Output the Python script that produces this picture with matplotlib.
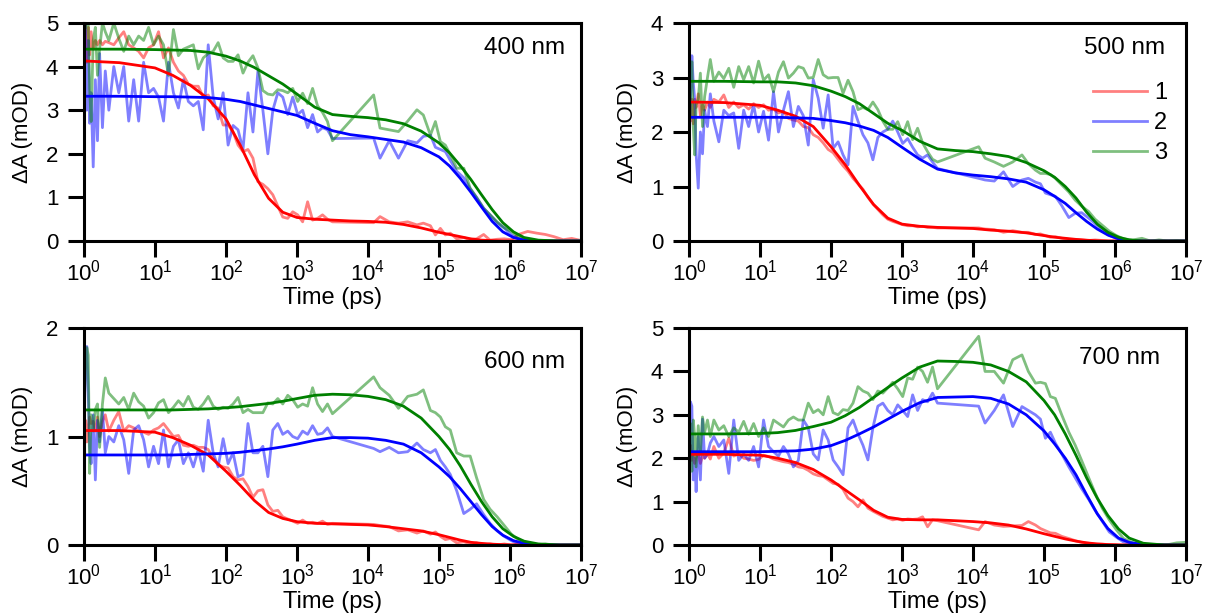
import numpy as np
import matplotlib
matplotlib.use("Agg")
import matplotlib.pyplot as plt
from matplotlib.ticker import NullLocator

plt.rcParams['font.family'] = ['Liberation Sans', 'DejaVu Sans']
plt.rcParams['mathtext.default'] = 'regular'

# time delays of the measured points, log10(t / ps)
# femtosecond set up to ~3 ns, then nanosecond set
t_fs_log = [0.00, 0.02, 0.04, 0.06, 0.08, 0.10, 0.13, 0.16, 0.19, 0.22, 0.26, 0.30,
            0.35, 0.42, 0.49, 0.56, 0.63, 0.70, 0.77, 0.84, 0.91, 0.98,
            1.05, 1.12, 1.19, 1.26, 1.33, 1.40, 1.47, 1.54, 1.61, 1.68, 1.75, 1.82, 1.89, 1.96,
            2.03, 2.10, 2.17, 2.24, 2.31, 2.38, 2.45, 2.52, 2.59, 2.66, 2.73, 2.80, 2.87, 2.94,
            3.01, 3.08, 3.15, 3.22, 3.29, 3.36, 3.43, 3.50]
t_ns_log = [4.08, 4.17, 4.30, 4.43, 4.56, 4.69, 4.78, 4.88, 4.95, 5.02,
            5.09, 5.16, 5.25, 5.35, 5.44, 5.53, 5.63, 5.72, 5.82, 5.92,
            6.02, 6.12, 6.25, 6.38, 6.50, 6.62, 6.75, 6.87, 6.98]

# time grid of the fitted curves, log10(t / ps)
t_fit_log = [0.00, 0.01, 0.5, 1.0, 1.25, 1.5, 1.75, 2.0, 2.2, 2.4, 2.6, 2.8, 3.0, 3.25, 3.5, 3.75,
             4.0, 4.25, 4.5, 4.75, 5.0, 5.15, 5.3, 5.45, 5.6, 5.75, 5.9, 6.05, 6.2, 6.4, 6.7, 7.0]

# ---- 400 nm ----
d400_1 = [4.27, 5.0, 4.1, 4.9, 4.27, 4.8, 4.4, 4.6, 4.5, 4.6, 4.5, 4.58,
          4.55, 4.5, 4.66, 4.8, 4.5, 4.43, 4.35, 4.2, 4.43, 4.5,
          4.8, 4.2, 4.43, 4.1, 3.9, 3.8, 3.6, 3.55, 3.55, 3.3, 3.35, 3.1, 3.05, 2.66,
          2.66, 2.5, 2.2, 2.05, 2.1, 1.9, 1.36, 1.3, 1.2, 1.06, 0.8, 0.55, 0.52, 0.67,
          0.6, 0.44, 0.9, 0.48, 0.52, 0.6, 0.5, 0.44,
          0.42, 0.56, 0.44, 0.41, 0.44, 0.37, 0.41, 0.35, 0.14, 0.29,
          0.14, 0.18, 0.05, 0.08, 0.03, 0.05, 0.15, 0.02, 0.04, 0.05,
          0.03, 0.15, 0.22, 0.18, 0.15, 0.1, 0.03, 0.06, 0.02]
d400_2 = [3.7, 5.0, 3.0, 4.6, 2.7, 3.4, 1.7, 3.7, 2.3, 4.3, 2.6, 3.9,
          3.0, 4.0, 3.4, 4.0, 2.75, 3.7, 2.75, 4.1, 3.4, 3.5,
          3.3, 2.75, 4.1, 3.4, 3.05, 3.7, 3.2, 3.1, 3.2, 2.55, 4.5, 3.3, 2.8, 3.4,
          2.2, 2.65, 2.55, 2.1, 3.4, 2.5, 3.9, 3.0, 2.0, 3.0, 3.4, 3.3, 2.9, 3.3,
          2.9, 3.0, 2.6, 2.9, 2.5, 2.6, 2.55, 2.35,
          2.36, 1.9, 2.3, 1.9, 2.3, 2.25, 2.4, 2.43, 2.15, 2.1,
          2.05, 1.85, 1.6, 1.45, 1.2, 1.0, 0.75, 0.6, 0.42, 0.3,
          0.14, 0.05, 0.02, 0.0, 0.0, 0.0, 0.0, 0.0, 0.0]
d400_3 = [4.4, 5.0, 4.9, 5.0, 3.5, 2.74, 4.6, 4.9, 3.8, 4.4, 5.0, 4.8,
          4.6, 5.0, 4.65, 4.35, 4.7, 4.5, 4.7, 4.6, 4.9, 4.5,
          4.7, 4.5, 3.8, 4.85, 4.25, 4.4, 4.45, 4.5, 3.95, 4.2, 4.3, 4.35, 4.55, 4.2,
          4.12, 4.12, 4.27, 3.85, 4.1, 4.25, 3.97, 3.45, 3.37, 3.35, 3.47, 3.45, 3.40, 3.5,
          3.2, 3.39, 3.15, 3.5, 3.1, 2.95, 2.74, 2.3,
          3.35, 2.59, 2.55, 2.51, 2.75, 3.01, 2.89, 2.43, 2.74, 2.28,
          2.2, 1.98, 1.67, 1.67, 1.21, 1.0, 0.75, 0.6, 0.44, 0.3,
          0.22, 0.1, 0.03, 0.0, 0.0, 0.0, 0.0, 0.0, 0.0]
f400_1 = [4.13, 4.13, 4.09, 3.97, 3.80, 3.57, 3.26, 2.80, 2.20, 1.52, 0.98, 0.66, 0.54, 0.50, 0.48, 0.46,
          0.45, 0.43, 0.38, 0.30, 0.20, 0.15, 0.10, 0.05, 0.02, 0.01, 0.0, 0.0, 0.0, 0.0, 0.0, 0.0]
f400_2 = [3.32, 3.32, 3.32, 3.31, 3.31, 3.30, 3.29, 3.25, 3.20, 3.12, 3.04, 2.96, 2.88, 2.70, 2.53, 2.44,
          2.39, 2.33, 2.27, 2.14, 1.93, 1.72, 1.44, 1.12, 0.78, 0.45, 0.21, 0.08, 0.02, 0.0, 0.0, 0.0]
f400_3 = [4.40, 4.40, 4.40, 4.39, 4.38, 4.37, 4.33, 4.24, 4.13, 3.98, 3.79, 3.60, 3.37, 3.07, 2.90, 2.86,
          2.83, 2.78, 2.69, 2.52, 2.25, 2.02, 1.73, 1.41, 1.06, 0.72, 0.42, 0.21, 0.08, 0.02, 0.0, 0.0]

# ---- 500 nm ----
d500_1 = [2.5, 2.2, 2.6, 2.15, 2.6, 2.45, 2.7, 2.3, 2.5, 2.4, 2.55, 2.45,
          2.6, 2.55, 2.68, 2.45, 2.55, 2.45, 2.5, 2.42, 2.52, 2.45,
          2.5, 2.4, 2.42, 2.35, 2.38, 2.25, 2.22, 2.2, 2.1, 2.08, 1.95, 1.9, 1.8, 1.68,
          1.62, 1.5, 1.38, 1.28, 1.15, 1.05, 0.95, 0.8, 0.68, 0.58, 0.48, 0.4, 0.36, 0.33,
          0.3, 0.28, 0.28, 0.26, 0.27, 0.25, 0.25, 0.24,
          0.24, 0.22, 0.21, 0.16, 0.19, 0.16, 0.16, 0.12, 0.13, 0.1,
          0.07, 0.08, 0.05, 0.03, 0.03, 0.02, 0.01, 0.02, 0.01, 0.0,
          0.0, 0.0, 0.0, 0.0, 0.0, 0.0, 0.0, 0.0, 0.0]
d500_2 = [1.7, 2.6, 3.4, 2.9, 2.6, 1.6, 0.97, 2.0, 1.6, 2.4, 2.1, 2.7,
          2.2, 1.82, 2.4, 2.3, 2.35, 1.7, 2.4, 2.1, 2.5, 2.0,
          2.38, 1.85, 2.74, 2.0, 2.4, 2.74, 2.1, 2.47, 2.3, 1.76, 2.96, 2.62, 2.07, 2.68,
          1.7, 1.82, 1.58, 1.4, 2.47, 2.2, 1.95, 1.8, 1.49, 1.9, 2.0, 2.05, 2.2, 2.0,
          1.79, 1.88, 1.72, 1.58, 1.52, 1.58, 1.45, 1.33,
          1.15, 1.12, 1.1, 1.27, 1.0, 1.12, 1.15, 1.08, 1.05, 0.88,
          0.85, 0.82, 0.65, 0.43, 0.51, 0.52, 0.42, 0.32, 0.2, 0.1,
          0.05, 0.02, 0.0, 0.0, 0.0, 0.0, 0.0, 0.0, 0.0]
d500_3 = [2.5, 2.3, 3.29, 2.1, 1.58, 2.5, 2.6, 3.08, 2.1, 2.65, 3.0, 3.33,
          2.93, 3.1, 2.98, 3.17, 2.82, 3.2, 2.96, 3.2, 2.9, 3.3,
          2.95, 3.05, 2.74, 3.1, 3.29, 2.99, 3.08, 3.2, 3.17, 2.99, 3.0, 3.33, 3.05, 2.99,
          3.0, 3.0, 2.71, 2.95, 2.74, 2.41, 2.45, 2.41, 2.55, 2.41, 2.2, 2.05, 2.05, 2.19,
          1.95, 2.19, 1.86, 2.07, 1.8, 1.64, 1.5, 1.45,
          1.73, 1.52, 1.45, 1.37, 1.45, 1.58, 1.42, 1.30, 1.24, 1.24,
          1.22, 1.15, 1.03, 0.9, 0.75, 0.64, 0.54, 0.4, 0.29, 0.18,
          0.1, 0.04, 0.02, 0.05, 0.0, 0.02, 0.0, 0.01, 0.0]
f500_1 = [2.55, 2.55, 2.54, 2.49, 2.40, 2.29, 2.10, 1.73, 1.40, 1.02, 0.67, 0.42, 0.31, 0.27, 0.25, 0.24,
          0.23, 0.20, 0.18, 0.15, 0.10, 0.07, 0.05, 0.03, 0.015, 0.005, 0.0, 0.0, 0.0, 0.0, 0.0, 0.0]
f500_2 = [2.27, 2.27, 2.27, 2.27, 2.27, 2.26, 2.25, 2.21, 2.17, 2.11, 2.03, 1.90, 1.72, 1.50, 1.32, 1.25,
          1.21, 1.18, 1.14, 1.08, 0.94, 0.82, 0.69, 0.52, 0.36, 0.22, 0.11, 0.04, 0.01, 0.0, 0.0, 0.0]
f500_3 = [2.93, 2.93, 2.93, 2.92, 2.92, 2.90, 2.85, 2.75, 2.65, 2.52, 2.34, 2.16, 2.03, 1.83, 1.69, 1.66,
          1.64, 1.60, 1.55, 1.44, 1.29, 1.17, 1.0, 0.79, 0.53, 0.31, 0.16, 0.07, 0.02, 0.0, 0.0, 0.0]

# ---- 600 nm ----
d600_1 = [0.78, 1.15, 0.95, 1.1, 1.18, 1.12, 1.14, 1.05, 1.18, 1.0, 1.14, 1.2,
          1.05, 1.15, 1.23, 1.05, 1.1, 1.08, 1.05, 1.04, 1.02, 1.06,
          1.08, 1.12, 1.06, 1.0, 1.01, 0.92, 0.91, 0.92, 0.9, 0.9, 0.88, 0.8, 0.74, 0.72,
          0.71, 0.63, 0.60, 0.61, 0.54, 0.44, 0.50, 0.51, 0.37, 0.31, 0.32, 0.26, 0.24, 0.22,
          0.2, 0.23, 0.2, 0.21, 0.2, 0.22, 0.19, 0.2,
          0.19, 0.18, 0.17, 0.13, 0.14, 0.11, 0.13, 0.1, 0.12, 0.08,
          0.05, 0.06, 0.02, 0.03, 0.01, 0.02, 0.0, 0.01, 0.0, 0.01,
          0.0, 0.01, 0.02, 0.0, 0.0, 0.0, 0.0, 0.0, 0.0]
d600_2 = [0.91, 1.77, 1.83, 1.4, 0.9, 0.75, 1.2, 0.6, 1.15, 0.95, 1.25, 0.85,
          1.0, 0.95, 1.1, 0.97, 0.66, 1.06, 1.1, 0.97, 0.72, 0.91,
          0.75, 1.06, 0.72, 0.91, 0.97, 0.75, 0.85, 0.72, 0.88, 0.68, 1.15, 0.85, 0.72, 0.98,
          0.75, 0.85, 0.63, 0.65, 1.12, 0.85, 0.85, 0.91, 0.63, 1.06, 1.12, 1.02, 1.05, 1.0,
          0.98, 1.05, 1.02, 1.1, 1.02, 1.03, 1.08, 1.0,
          0.89, 0.86, 0.9, 0.85, 0.86, 0.94, 0.88, 0.85, 0.88, 0.78,
          0.72, 0.65, 0.5, 0.29, 0.33, 0.38, 0.28, 0.2, 0.13, 0.08,
          0.04, 0.01, 0.0, 0.0, 0.0, 0.0, 0.0, 0.0, 0.0]
d600_3 = [1.25, 1.6, 1.82, 1.75, 0.66, 1.2, 1.05, 1.25, 1.3, 0.9, 1.3, 1.54,
          1.4, 1.35, 1.3, 1.36, 1.25, 1.4, 1.32, 1.28, 1.17, 1.22,
          1.31, 1.34, 1.22, 1.27, 1.33, 1.28, 1.37, 1.27, 1.25, 1.3, 1.37, 1.28, 1.25, 1.27,
          1.26, 1.3, 1.36, 1.22, 1.25, 1.22, 1.22, 1.22, 1.31, 1.3, 1.35, 1.3, 1.38, 1.34,
          1.27, 1.3, 1.28, 1.45, 1.3, 1.23, 1.3, 1.21,
          1.55, 1.45, 1.38, 1.26, 1.37, 1.39, 1.43, 1.24, 1.22, 1.18,
          1.09, 1.06, 0.85, 0.82, 0.82, 0.62, 0.42, 0.33, 0.26, 0.18,
          0.1, 0.05, 0.02, 0.0, 0.01, 0.0, 0.0, 0.0, 0.0]
f600_1 = [1.055, 1.055, 1.055, 1.04, 0.99, 0.92, 0.83, 0.68, 0.55, 0.41, 0.30, 0.245, 0.215, 0.20, 0.195, 0.19,
          0.185, 0.17, 0.15, 0.13, 0.095, 0.07, 0.045, 0.025, 0.015, 0.008, 0.003, 0.0, 0.0, 0.0, 0.0, 0.0]
f600_2 = [0.83, 0.83, 0.83, 0.83, 0.83, 0.835, 0.84, 0.845, 0.855, 0.87, 0.885, 0.905, 0.93, 0.965, 0.99, 0.99,
          0.985, 0.965, 0.93, 0.85, 0.72, 0.63, 0.52, 0.40, 0.28, 0.17, 0.09, 0.04, 0.015, 0.003, 0.0, 0.0]
f600_3 = [1.245, 1.245, 1.245, 1.245, 1.245, 1.25, 1.255, 1.265, 1.275, 1.29, 1.305, 1.325, 1.35, 1.38, 1.39, 1.385,
          1.37, 1.34, 1.28, 1.17, 1.0, 0.88, 0.73, 0.56, 0.40, 0.26, 0.15, 0.08, 0.035, 0.01, 0.0, 0.0]

# ---- 700 nm ----
d700_1 = [1.9, 2.3, 1.95, 2.1, 1.88, 2.05, 2.1, 1.88, 2.05, 2.0, 2.1, 1.98,
          2.27, 2.0, 2.12, 2.46, 2.05, 2.1, 2.0, 1.98, 1.95, 1.97,
          2.07, 2.04, 1.98, 1.95, 1.92, 1.9, 1.86, 1.8, 1.78, 1.72, 1.64, 1.6, 1.58, 1.5,
          1.42, 1.4, 1.28, 1.08, 1.0, 0.88, 1.04, 0.85, 0.78, 0.72, 0.66, 0.62, 0.58, 0.6,
          0.57, 0.6, 0.59, 0.6, 0.65, 0.42, 0.58, 0.56,
          0.35, 0.54, 0.46, 0.43, 0.44, 0.45, 0.54, 0.46, 0.38, 0.33,
          0.28, 0.27, 0.2, 0.15, 0.1, 0.06, 0.04, 0.02, 0.02, 0.01,
          0.01, 0.0, 0.0, 0.0, 0.0, 0.0, 0.0, 0.0, 0.0]
d700_2 = [0.0, 3.3, 3.2, 1.5, 2.0, 1.23, 2.5, 1.5, 2.9, 2.0, 2.1, 2.35,
          2.5, 2.27, 2.42, 1.65, 2.88, 1.95, 2.1, 1.95, 2.27, 1.8,
          2.88, 2.27, 2.15, 2.05, 2.27, 2.1, 1.8, 1.95, 2.88, 2.7, 2.1, 1.96, 2.65, 2.42,
          1.96, 1.8, 1.62, 2.7, 2.88, 2.56, 2.3, 1.96, 2.7, 3.2, 3.27, 3.1, 3.0, 3.23,
          3.1, 2.96, 3.46, 3.1, 3.35, 3.3, 3.5, 3.27,
          3.2, 2.81, 3.1, 3.46, 2.73, 3.19, 3.1, 3.0, 2.9, 2.46,
          2.6, 2.35, 2.1, 1.8, 1.55, 1.3, 1.05, 0.8, 0.55, 0.3,
          0.18, 0.07, 0.02, 0.0, 0.0, 0.0, 0.0, 0.0, 0.0]
d700_3 = [2.6, 2.8, 1.7, 2.88, 2.5, 1.8, 2.75, 2.1, 2.95, 2.6, 2.88, 2.5,
          2.88, 2.65, 2.75, 2.5, 2.7, 2.6, 2.85, 2.55, 2.8, 2.5,
          2.7, 2.5, 2.88, 2.8, 2.72, 2.88, 2.95, 2.88, 2.88, 3.27, 3.05, 3.12, 3.0, 3.42,
          3.05, 3.0, 3.12, 3.1, 3.27, 3.65, 3.55, 3.5, 3.35, 3.55, 3.5, 3.62, 3.75, 3.6,
          3.42, 3.85, 3.82, 4.1, 4.0, 3.75, 4.1, 3.6,
          4.81, 4.0, 4.0, 3.73, 4.27, 4.38, 4.0, 3.73, 3.75, 3.72,
          3.42, 3.38, 3.0, 2.6, 2.3, 1.95, 1.55, 1.2, 0.85, 0.58,
          0.35, 0.15, 0.05, 0.02, 0.0, 0.0, 0.01, 0.05, 0.06]
f700_1 = [2.09, 2.09, 2.09, 2.07, 2.00, 1.90, 1.74, 1.50, 1.27, 1.04, 0.80, 0.64, 0.59, 0.58, 0.58, 0.56,
          0.54, 0.51, 0.46, 0.37, 0.26, 0.20, 0.14, 0.09, 0.05, 0.025, 0.01, 0.0, 0.0, 0.0, 0.0, 0.0]
f700_2 = [0.0, 2.15, 2.15, 2.15, 2.16, 2.17, 2.21, 2.29, 2.41, 2.56, 2.72, 2.90, 3.08, 3.28, 3.40, 3.41,
          3.42, 3.38, 3.25, 3.0, 2.63, 2.33, 2.0, 1.62, 1.16, 0.72, 0.38, 0.16, 0.06, 0.01, 0.0, 0.0]
f700_3 = [2.56, 2.56, 2.56, 2.57, 2.59, 2.64, 2.73, 2.83, 2.98, 3.17, 3.40, 3.63, 3.85, 4.10, 4.24, 4.23,
          4.21, 4.15, 4.0, 3.76, 3.33, 3.0, 2.56, 2.07, 1.55, 1.08, 0.68, 0.37, 0.16, 0.04, 0.0, 0.0]

labels = ["1", "2", "3"]
colors = ["#ff0000", "#0000ff", "#008000"]

t_data = 10 ** np.array(t_fs_log + t_ns_log)
t_fit = 10 ** np.array(t_fit_log)

# (title, ymax, data, fits, axes rect [left, bottom, width, height], title position)
panels = [
    ("400 nm", 5, [d400_1, d400_2, d400_3], [f400_1, f400_2, f400_3],
     [0.0697, 0.6081, 0.4124, 0.3545], (0.968, 0.885)),
    ("500 nm", 4, [d500_1, d500_2, d500_3], [f500_1, f500_2, f500_3],
     [0.5718, 0.6081, 0.4124, 0.3545], (0.958, 0.885)),
    ("600 nm", 2, [d600_1, d600_2, d600_3], [f600_1, f600_2, f600_3],
     [0.0697, 0.1138, 0.4124, 0.3528], (0.968, 0.843)),
    ("700 nm", 5, [d700_1, d700_2, d700_3], [f700_1, f700_2, f700_3],
     [0.5718, 0.1138, 0.4124, 0.3528], (0.948, 0.86)),
]

fig = plt.figure(figsize=(12.05, 6.15), dpi=100)

for i, (title, ymax, data, fits, rect, tpos) in enumerate(panels):
    ax = fig.add_axes(rect)
    handles = []
    for y, c, lab in zip(data, colors, labels):
        h, = ax.plot(t_data, y, color=c, alpha=0.5, lw=2.0, label=lab)
        handles.append(h)
    for y, c in zip(fits, colors):
        ax.plot(t_fit, y, color=c, lw=2.0)

    ax.set_xscale("log")
    ax.set_xlim(1, 1e7)
    ax.set_ylim(0, ymax)
    ax.set_xticks([10.0 ** k for k in range(8)])
    ax.xaxis.set_minor_locator(NullLocator())
    ax.set_yticks(range(0, ymax + 1))

    for s in ax.spines.values():
        s.set_linewidth(2.2)
    ax.tick_params(direction="out", length=11.5, width=2.2, labelsize=16)
    ax.tick_params(axis="x", pad=2)
    ax.tick_params(axis="y", pad=7)

    ax.set_xlabel("Time (ps)", fontsize=17, labelpad=1)
    ax.set_ylabel("ΔA (mOD)", fontsize=16, labelpad=9)
    ax.text(tpos[0], tpos[1], title, transform=ax.transAxes,
            ha="right", va="center", fontsize=17.5)

    if i == 1:
        ax.legend(handles=handles, loc="upper right", bbox_to_anchor=(0.962, 0.73),
                  frameon=False, fontsize=17, handlelength=2.3, handletextpad=0.3,
                  labelspacing=0.35, borderpad=0, borderaxespad=0)

fig.savefig("out.png", dpi=100)
